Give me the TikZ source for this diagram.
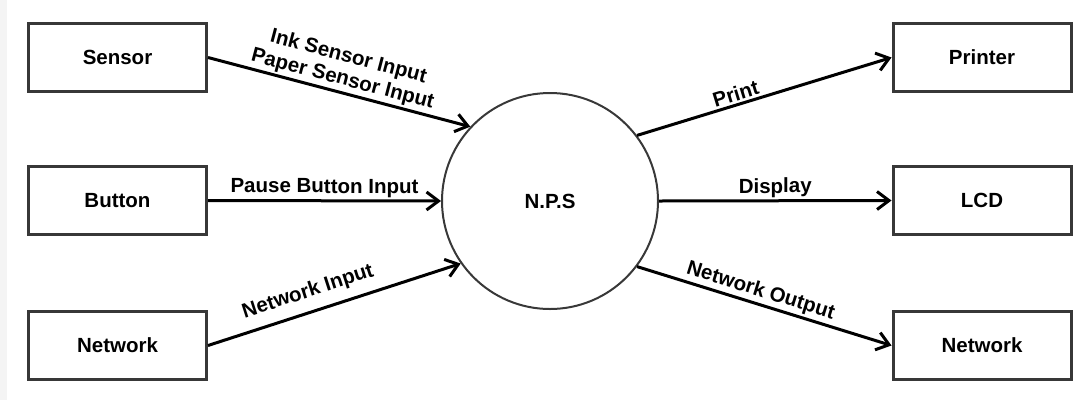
\documentclass[tikz,border=0pt]{standalone}
\usepackage{fontspec}
\setmainfont{Liberation Sans}
\usetikzlibrary{arrows.meta}
\definecolor{boxgray}{HTML}{383838}
\definecolor{stripgray}{HTML}{F4F4F4}

\begin{document}
\begin{tikzpicture}[x=1pt, y=-1pt]
  \tikzstyle{dfd_ext}  = [shape = rectangle, draw = boxgray, line width=3pt, minimum width=178pt, minimum height=68pt, font=\fontsize{20.5}{21}\selectfont\bfseries]
  \tikzstyle{dfd_proc} = [shape = circle,    draw = boxgray, line width=2pt, minimum size=216pt, inner sep=0pt, font=\fontsize{20.5}{21}\selectfont\bfseries]
  \tikzstyle{dfd_flow} = [draw, -{Straight Barb[length=12pt, width=18pt]}, line width=3pt]
  \tikzstyle{dfd_lbl}  = [sloped, above, inner sep=2pt, align=center, font=\fontsize{20.5}{23}\selectfont\bfseries]

  \useasboundingbox (0,0) rectangle (1075,400);
  \fill[stripgray] (0,0) rectangle (7,400);

  \node[dfd_proc] at (550, 201)   (nps)     {N.P.S};

  \node[dfd_ext]  at (117.5, 57.5)  (sensor)  {Sensor};
  \node[dfd_ext]  at (117.5, 200.5) (button)  {Button};
  \node[dfd_ext]  at (117.5, 345.5) (net_in)  {Network};

  \node[dfd_ext]  at (982, 57.5)    (printer) {Printer};
  \node[dfd_ext]  at (982, 200.5)   (lcd)     {LCD};
  \node[dfd_ext]  at (982, 345.5)   (net_out) {Network};

  \path
    (sensor.east) edge[dfd_flow] node[dfd_lbl] {Ink Sensor Input\\Paper Sensor Input} (nps.137)
    (button.east) edge[dfd_flow] node[dfd_lbl] {Pause Button Input} (nps.west)
    (net_in.east) edge[dfd_flow] node[dfd_lbl, above=7pt, pos=0.42] {Network Input} (nps.215)
  ;

  \path
    (nps.37)   edge[dfd_flow] node[dfd_lbl, pos=0.4] {Print} (printer.west)
    (nps.east) edge[dfd_flow] node[dfd_lbl] {Display} (lcd.west)
    (nps.-37)  edge[dfd_flow] node[dfd_lbl, pos=0.47] {Network Output} (net_out.west)
  ;
\end{tikzpicture}
\end{document}
